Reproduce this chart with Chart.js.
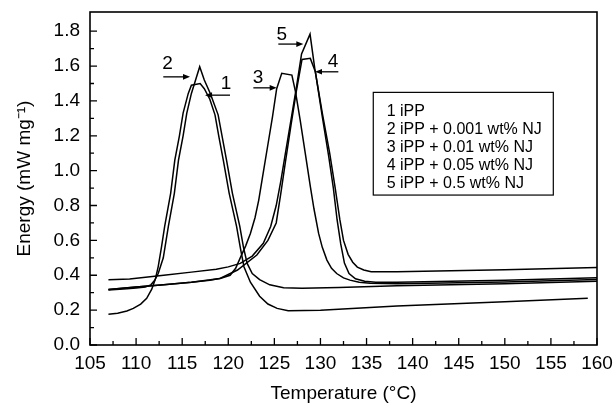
<!DOCTYPE html>
<html><head><meta charset="utf-8">
<script src="https://cdn.jsdelivr.net/npm/chart.js@4.4.1/dist/chart.umd.min.js"></script>
<style>html,body{margin:0;padding:0;background:#fff;}canvas{display:block;}</style>
</head><body>
<canvas id="c" width="616" height="406"></canvas>
<script>
// ---- data ----
const seriesLabels = ['1 iPP', '2 iPP + 0.001 wt% NJ', '3 iPP + 0.01 wt% NJ', '4 iPP + 0.05 wt% NJ', '5 iPP + 0.5 wt% NJ'];
const xTicks = [105, 110, 115, 120, 125, 130, 135, 140, 145, 150, 155, 160];
const yTicks = [0, 0.2, 0.4, 0.6, 0.8, 1.0, 1.2, 1.4, 1.6, 1.8];

const temp1 = [107, 108, 109, 109.7, 110.5, 111.15, 111.7, 112.1, 112.4, 112.75, 113.1, 113.75, 114.2, 114.7, 115.1, 115.66, 116.0, 116.95, 117.4, 118.0, 118.56, 119.0, 119.46, 120.1, 120.9, 121.3, 121.7, 122.4, 123.4, 124.3, 125.3, 126.5, 130, 138.3, 150, 159];
const energy1 = [0.176, 0.182, 0.195, 0.21, 0.235, 0.268, 0.32, 0.38, 0.45, 0.56, 0.68, 0.87, 1.06, 1.2, 1.33, 1.443, 1.49, 1.50, 1.47, 1.41, 1.32, 1.19, 1.06, 0.87, 0.68, 0.56, 0.449, 0.36, 0.28, 0.235, 0.21, 0.197, 0.20, 0.224, 0.248, 0.268];

const temp2 = [107, 109, 110, 111, 111.6, 112.0, 112.4, 112.95, 113.5, 114.15, 114.6, 115.1, 115.5, 116.0, 116.9, 117.4, 118.05, 118.9, 119.81, 120.45, 121.25, 121.65, 122.05, 122.6, 123.4, 124.5, 126.0, 128, 132, 138.3, 150, 160];
const energy2 = [0.315, 0.322, 0.327, 0.333, 0.345, 0.37, 0.41, 0.50, 0.68, 0.87, 1.06, 1.2, 1.33, 1.443, 1.596, 1.52, 1.443, 1.32, 1.06, 0.87, 0.68, 0.56, 0.468, 0.41, 0.375, 0.345, 0.328, 0.325, 0.33, 0.34, 0.352, 0.366];

const temp3 = [107, 110, 113, 116, 118, 119.2, 120.2, 120.8, 121.3, 121.9, 122.4, 122.9, 123.3, 123.8, 124.3, 124.8, 125.25, 125.8, 126.9, 127.3, 127.8, 128.35, 128.9, 129.3, 129.8, 130.2, 130.7, 131.2, 131.76, 132.5, 133.2, 134.2, 135.4, 138.3, 150, 160];
const energy3 = [0.318, 0.333, 0.346, 0.36, 0.372, 0.383, 0.40, 0.44, 0.50, 0.57, 0.64, 0.73, 0.83, 0.99, 1.15, 1.31, 1.47, 1.558, 1.548, 1.45, 1.29, 1.10, 0.91, 0.78, 0.64, 0.56, 0.487, 0.44, 0.41, 0.385, 0.372, 0.36, 0.354, 0.352, 0.362, 0.376];

const temp4 = [107, 110, 113, 116, 119.1, 121, 123.1, 124.3, 125.2, 125.7, 126.2, 126.8, 127.4, 128.0, 128.9, 129.45, 130.2, 130.9, 131.4, 131.8, 132.2, 132.6, 133.1, 133.8, 134.8, 136, 138.3, 150, 160];
const energy4 = [0.318, 0.333, 0.346, 0.36, 0.382, 0.43, 0.516, 0.60, 0.70, 0.87, 1.05, 1.26, 1.46, 1.638, 1.644, 1.567, 1.31, 1.08, 0.90, 0.72, 0.58, 0.47, 0.41, 0.38, 0.366, 0.36, 0.36, 0.372, 0.386];

const temp5 = [107, 109.3, 113, 116, 118.7, 120.0, 121.3, 122.6, 123.8, 124.6, 125.2, 125.7, 126.2, 126.8, 127.4, 127.95, 128.87, 129.4, 130.2, 131.0, 131.6, 132.1, 132.5, 133.0, 133.5, 134.0, 134.7, 135.5, 138.3, 150, 160];
const energy5 = [0.374, 0.378, 0.40, 0.418, 0.434, 0.448, 0.468, 0.51, 0.583, 0.68, 0.80, 0.94, 1.10, 1.29, 1.48, 1.67, 1.783, 1.58, 1.33, 1.10, 0.90, 0.72, 0.60, 0.52, 0.475, 0.447, 0.43, 0.42, 0.42, 0.432, 0.445];

// ---- annotation layout (data coordinates) ----
const peakNotes = [
  {text: '2', lx: 113.41, ly: 1.615, x0: 112.95, x1: 115.85, ay: 1.538},
  {text: '1', lx: 119.75, ly: 1.496, x0: 120.19, x1: 117.48, ay: 1.433},
  {text: '3', lx: 123.23, ly: 1.531, x0: 122.72, x1: 125.25, ay: 1.475},
  {text: '5', lx: 125.80, ly: 1.777, x0: 125.43, x1: 128.14, ay: 1.726},
  {text: '4', lx: 131.36, ly: 1.624, x0: 131.94, x1: 129.41, ay: 1.567}
];
const legendBox = {x0: 135.73, x1: 155.26, y0: 1.449, y1: 0.86, textX: 137.18, firstRow: 19.7, rowGap: 18};

const FONT = "'Liberation Sans', Arial, Helvetica, sans-serif";

const series = [[temp1, energy1], [temp2, energy2], [temp3, energy3], [temp4, energy4], [temp5, energy5]];
const datasets = series.map(([t, e], i) => ({
  label: seriesLabels[i],
  data: t.map((v, j) => ({x: v, y: e[j]})),
  borderColor: '#000',
  borderWidth: 1.5,
  pointRadius: 0,
  tension: 0,
  fill: false
}));

const frameAndTicks = {
  id: 'frameAndTicks',
  afterDatasetsDraw(chart) {
    const {ctx, chartArea: a, scales: {x, y}} = chart;
    ctx.save();
    ctx.strokeStyle = '#000';
    ctx.lineWidth = 1.3;
    ctx.beginPath();
    xTicks.forEach((v, i) => {
      const px = x.getPixelForValue(v);
      ctx.moveTo(px, a.bottom); ctx.lineTo(px, a.bottom - 7);
      if (i < xTicks.length - 1) {
        const mx = x.getPixelForValue((v + xTicks[i + 1]) / 2);
        ctx.moveTo(mx, a.bottom); ctx.lineTo(mx, a.bottom - 4);
      }
    });
    yTicks.forEach((v, i) => {
      const py = y.getPixelForValue(v);
      ctx.moveTo(a.left, py); ctx.lineTo(a.left + 7, py);
      if (i < yTicks.length - 1) {
        const my = y.getPixelForValue((v + yTicks[i + 1]) / 2);
        ctx.moveTo(a.left, my); ctx.lineTo(a.left + 4, my);
      }
    });
    ctx.stroke();
    ctx.lineWidth = 1.6;
    ctx.strokeRect(a.left, a.top, a.right - a.left, a.bottom - a.top);
    ctx.restore();
  }
};

const notes = {
  id: 'notes',
  afterDraw(chart) {
    const {ctx, scales: {x, y}} = chart;
    ctx.save();
    ctx.fillStyle = '#000';
    ctx.strokeStyle = '#000';
    ctx.font = '19px ' + FONT;
    ctx.textAlign = 'center';
    ctx.textBaseline = 'middle';
    peakNotes.forEach(n => {
      ctx.fillText(n.text, x.getPixelForValue(n.lx), y.getPixelForValue(n.ly));
      const ax0 = x.getPixelForValue(n.x0), ax1 = x.getPixelForValue(n.x1), ay = y.getPixelForValue(n.ay);
      const dir = ax1 > ax0 ? 1 : -1;
      ctx.lineWidth = 1.3;
      ctx.beginPath(); ctx.moveTo(ax0, ay); ctx.lineTo(ax1 - dir * 5, ay); ctx.stroke();
      ctx.beginPath(); ctx.moveTo(ax1, ay); ctx.lineTo(ax1 - dir * 7, ay - 2.8); ctx.lineTo(ax1 - dir * 7, ay + 2.8); ctx.closePath(); ctx.fill();
    });
    // legend box
    const bx0 = x.getPixelForValue(legendBox.x0), bx1 = x.getPixelForValue(legendBox.x1);
    const by0 = y.getPixelForValue(legendBox.y0), by1 = y.getPixelForValue(legendBox.y1);
    ctx.lineWidth = 1.2;
    ctx.strokeRect(bx0, by0, bx1 - bx0, by1 - by0);
    ctx.font = '16px ' + FONT;
    ctx.textAlign = 'left';
    const tx = x.getPixelForValue(legendBox.textX);
    chart.data.datasets.forEach((d, i) => {
      ctx.fillText(d.label, tx, by0 + legendBox.firstRow + i * legendBox.rowGap);
    });
    ctx.restore();
  }
};

new Chart(document.getElementById('c').getContext('2d'), {
  type: 'line',
  data: {datasets},
  options: {
    responsive: false,
    animation: false,
    devicePixelRatio: 1,
    layout: {padding: {left: 0, right: 19, top: 12, bottom: 0}},
    plugins: {legend: {display: false}, tooltip: {enabled: false}},
    scales: {
      x: {
        type: 'linear', min: 105, max: 160, bounds: 'data',
        grid: {display: false, drawTicks: false},
        border: {display: false},
        afterBuildTicks: s => { s.ticks = xTicks.map(v => ({value: v})); },
        afterFit: s => { s.height = 61; s.paddingLeft = 0; s.paddingRight = 0; },
        ticks: {color: '#000', font: {family: FONT, size: 19}, padding: 7, maxRotation: 0, autoSkip: false,
                callback: v => String(v)},
        title: {display: true, text: 'Temperature (°C)', color: '#000', font: {family: FONT, size: 19},
                padding: {top: 0, bottom: 1}}
      },
      y: {
        type: 'linear', min: 0, max: 1.91, bounds: 'data',
        grid: {display: false, drawTicks: false},
        border: {display: false},
        afterBuildTicks: s => { s.ticks = yTicks.map(v => ({value: v})); },
        afterFit: s => { s.width = 90; s.paddingTop = 0; s.paddingBottom = 0; },
        ticks: {color: '#000', font: {family: FONT, size: 19}, padding: 10, autoSkip: false,
                callback: v => Number(v).toFixed(1)},
        title: {display: true, text: 'Energy (mW mg⁻¹)', color: '#000', font: {family: FONT, size: 19},
                padding: {top: 13, bottom: 0}}
      }
    }
  },
  plugins: [frameAndTicks, notes]
});
</script>
</body></html>
